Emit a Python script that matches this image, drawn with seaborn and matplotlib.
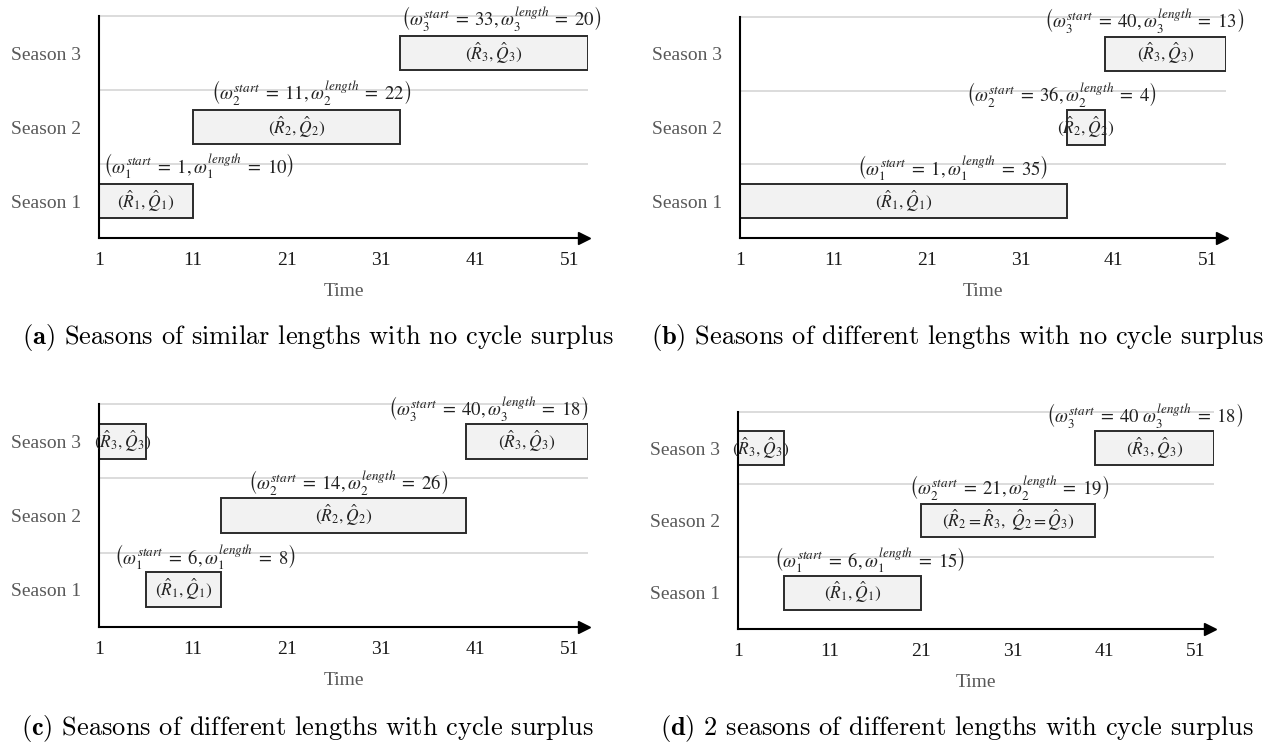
import matplotlib
matplotlib.use("Agg")
import matplotlib.pyplot as plt
import seaborn as sns
import pandas as pd

sns.set_theme(style="white")
plt.rcParams["font.family"] = ["Liberation Serif", "DejaVu Serif"]
plt.rcParams["mathtext.fontset"] = "stix"

# ---- data ---------------------------------------------------------------
seasons = ["Season 1", "Season 2", "Season 3"]
time_ticks = [1, 11, 21, 31, 41, 51]
cycle_end = 53  # one full cycle of 52 weeks starting at week 1

starts_a = [1, 11, 33]
lengths_a = [10, 22, 20]
starts_b = [1, 36, 40]
lengths_b = [35, 4, 13]
starts_c = [6, 14, 40]
lengths_c = [8, 26, 18]
starts_d = [6, 21, 40]
lengths_d = [15, 19, 18]

captions = [
    "Seasons of similar lengths with no cycle surplus",
    "Seasons of different lengths with no cycle surplus",
    "Seasons of different lengths with cycle surplus",
    "2 seasons of different lengths with cycle surplus",
]
panel_tags = ["(a)", "(b)", "(c)", "(d)"]

# ---- layout (pixels) ----------------------------------------------------
W, H = 1272, 747
axes_px = [  # left, right, top, bottom
    (99, 588, 16, 238),
    (740, 1226, 17, 238),
    (99, 588, 404, 627),
    (738, 1214, 412, 629),
]
caption_px = [(318, 337), (957, 337), (308, 729), (957, 729)]
note_x = [
    [11.6, 23.6, 43.8],
    [23.7, 35.4, 44.2],
    [12.3, 27.5, 42.4],
    [15.4, 30.6, 45.4],
]
note_dy = [0.47, 0.45, 0.44, 0.45]
note_sep = [[",", ",", ","], [",", ",", ","], [",", ",", ","], [",", ",", r"\ "]]

BAR_FACE = "#f2f2f2"
BAR_EDGE = "#2b2b2b"
GRID = "#d9d9d9"
LABEL_GREY = "#595959"


def segments(start, length):
    """Split a season into pieces that stay inside one cycle."""
    end = start + length
    if end <= cycle_end:
        return [(start, length)]
    return [(start, cycle_end - start), (1, end - cycle_end)]


def draw_panel(ax, starts, lengths, notes_x, dy, seps, bar_texts):
    df = pd.DataFrame({"season": seasons, "start": starts, "length": lengths})
    ax.set_xlim(1, cycle_end)
    ax.set_ylim(-0.5, 2.5)
    ax.hlines([0.5, 1.5, 2.5], 1, cycle_end, color=GRID, lw=1.3, zorder=0,
              clip_on=False)
    for i, row in df.iterrows():
        for s, l in segments(row["start"], row["length"]):
            ax.barh(i, l, left=s, height=0.47, color=BAR_FACE,
                    edgecolor=BAR_EDGE, linewidth=1.4, zorder=2)
            ax.text(s + l / 2, i, bar_texts[i], ha="center", va="center",
                    fontsize=12.5, zorder=3, color="#222222", clip_on=False)
        k = i + 1
        note = (r"$\left(\omega_{%d}^{start}\;=\;%d%s\omega_{%d}^{length}\;=\;%d\right)$"
                % (k, row["start"], seps[i], k, row["length"]))
        ax.text(notes_x[i], i + dy, note, ha="center", va="center",
                fontsize=13.5, color="#222222", zorder=3, clip_on=False)

    ax.set_yticks(range(3))
    ax.set_yticklabels(seasons)
    ax.set_xticks(time_ticks)
    ax.set_xticklabels([str(t) for t in time_ticks])
    ax.tick_params(axis="y", length=0, pad=13, labelsize=14,
                   labelcolor=LABEL_GREY)
    ax.tick_params(axis="x", direction="out", length=5, width=1.2,
                   color="black", pad=5, labelsize=14, labelcolor="#1a1a1a")
    ax.set_xlabel("Time", fontsize=14, color=LABEL_GREY, labelpad=10)
    ax.set_ylabel("")
    for side in ("top", "right"):
        ax.spines[side].set_visible(False)
    for side in ("left", "bottom"):
        ax.spines[side].set_color("black")
        ax.spines[side].set_linewidth(1.5)
    ax.plot([cycle_end - 0.45], [-0.5], marker=">", ms=9, color="black",
            clip_on=False, zorder=5)
    ax.grid(False)


fig = plt.figure(figsize=(W / 100, H / 100), dpi=100)
fig.patch.set_facecolor("white")

panel_data = [
    (starts_a, lengths_a),
    (starts_b, lengths_b),
    (starts_c, lengths_c),
    (starts_d, lengths_d),
]

default_bar_texts = [r"$(\hat{R}_{%d},\hat{Q}_{%d})$" % (k, k) for k in (1, 2, 3)]
bar_texts_d = [default_bar_texts[0],
               r"$(\hat{R}_2 = \hat{R}_3,\ \hat{Q}_2 = \hat{Q}_3)$",
               default_bar_texts[2]]

for p, (starts, lengths) in enumerate(panel_data):
    l, r, t, b = axes_px[p]
    ax = fig.add_axes([l / W, 1 - b / H, (r - l) / W, (b - t) / H])
    texts = bar_texts_d if p == 3 else default_bar_texts
    draw_panel(ax, starts, lengths, note_x[p], note_dy[p], note_sep[p], texts)
    cx, cy = caption_px[p]
    fig.text(cx / W, 1 - cy / H,
             r"$\mathbf{%s}$ %s" % (panel_tags[p], captions[p]),
             ha="center", va="center", fontsize=19, family="cmr10",
             math_fontfamily="cm", color="black")

fig.savefig("out.png", dpi=100, facecolor="white")
